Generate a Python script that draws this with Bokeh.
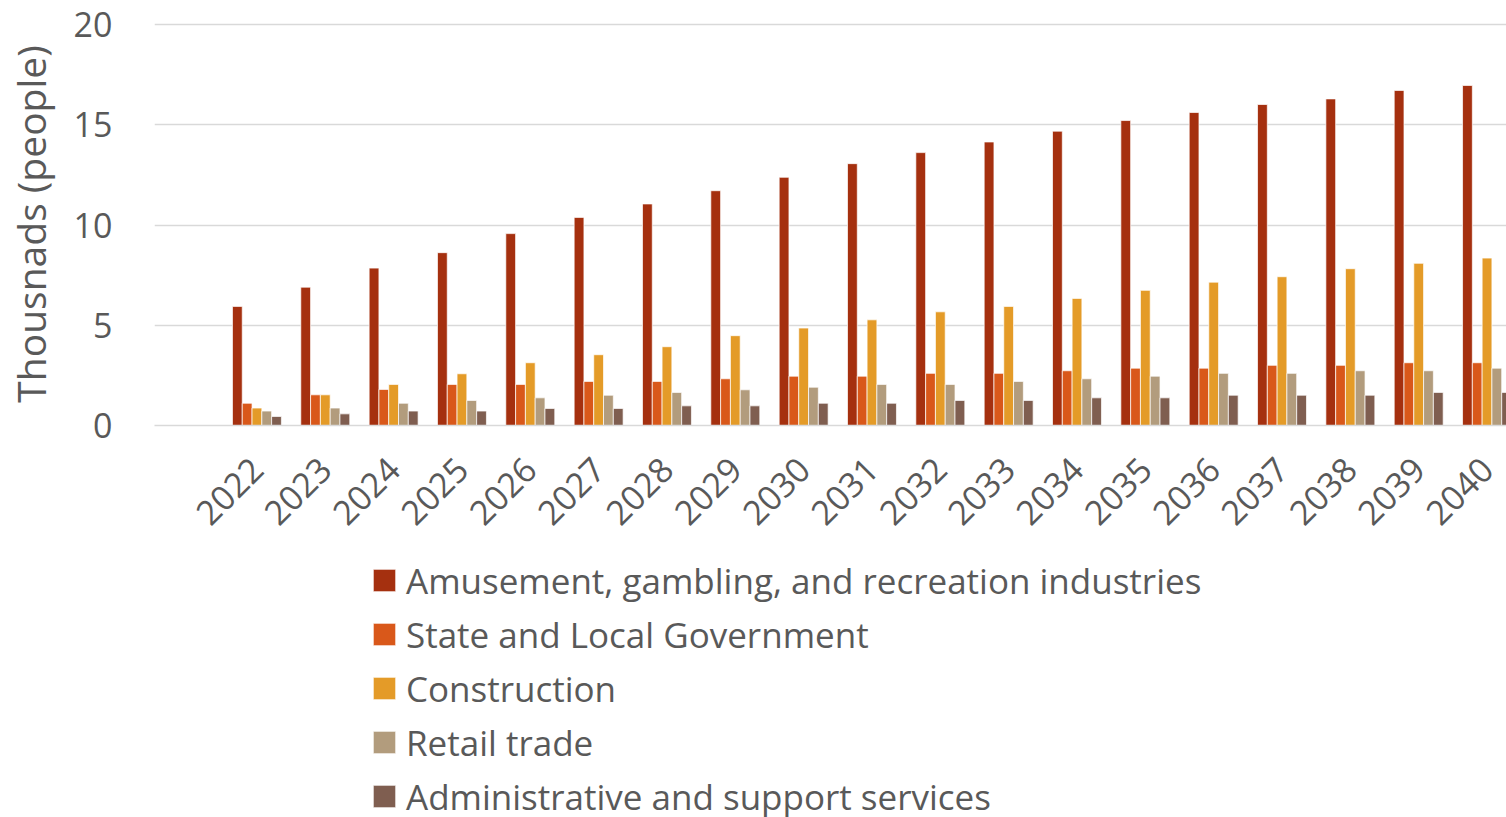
from bokeh.plotting import figure
from bokeh.models import (ColumnDataSource, Range1d, FixedTicker, Legend, LegendItem)
from bokeh.layouts import column
from bokeh.transform import dodge
from bokeh.embed import file_html
from bokeh.resources import INLINE
import math

years = [2022, 2023, 2024, 2025, 2026, 2027, 2028, 2029, 2030, 2031,
         2032, 2033, 2034, 2035, 2036, 2037, 2038, 2039, 2040]

amusement = [5.94, 6.90, 7.85, 8.62, 9.57, 10.38, 11.05, 11.71, 12.38, 13.06,
             13.61, 14.14, 14.68, 15.21, 15.61, 16.01, 16.29, 16.71, 16.96]
state_local = [1.11, 1.53, 1.80, 2.05, 2.05, 2.20, 2.20, 2.33, 2.46, 2.46,
               2.60, 2.60, 2.73, 2.86, 2.86, 3.00, 3.00, 3.13, 3.13]
construction = [0.87, 1.53, 2.05, 2.58, 3.13, 3.53, 3.93, 4.48, 4.86, 5.27,
                5.67, 5.94, 6.34, 6.74, 7.15, 7.42, 7.82, 8.09, 8.35]
retail = [0.72, 0.87, 1.11, 1.25, 1.38, 1.51, 1.65, 1.78, 1.91, 2.05,
          2.05, 2.20, 2.33, 2.46, 2.60, 2.60, 2.73, 2.73, 2.86]
admin = [0.45, 0.58, 0.72, 0.72, 0.85, 0.85, 0.98, 0.98, 1.11, 1.11,
         1.25, 1.25, 1.38, 1.38, 1.51, 1.51, 1.51, 1.65, 1.65]

series_names = ["Amusement, gambling, and recreation industries",
                "State and Local Government",
                "Construction",
                "Retail trade",
                "Administrative and support services"]
series_keys = ["amusement", "state_local", "construction", "retail", "admin"]
colors = ["#A5300F", "#D9581A", "#E49B28", "#B29C7D", "#7F5E50"]

y_ticks = [0, 5, 10, 15, 20]

source = ColumnDataSource(dict(year=years, amusement=amusement,
                               state_local=state_local,
                               construction=construction,
                               retail=retail, admin=admin))

FONT = "Open Sans"
TXT = "#595959"
FS = "34px"

p = figure(width=1506, height=557, output_backend="svg", toolbar_location=None,
           x_range=Range1d(2020.501, 2040.285), y_range=Range1d(0, 20.1),
           min_border_left=153, min_border_right=0, min_border_top=22,
           min_border_bottom=132)
p.outline_line_color = None
p.background_fill_color = "white"
p.border_fill_color = "white"

bar_w = 0.1433
renderers = []
for i, (key, col) in enumerate(zip(series_keys, colors)):
    r = p.vbar(x=dodge("year", (i - 2) * bar_w, range=p.x_range), top=key,
               width=bar_w, bottom=0, source=source, fill_color=col,
               line_color="white", line_width=1, line_alpha=0.7)
    renderers.append(r)

# grid
p.xgrid.grid_line_color = None
p.ygrid.grid_line_color = "#D9D9D9"
p.ygrid.grid_line_width = 1.5
p.yaxis.ticker = FixedTicker(ticks=y_ticks)
p.xaxis.ticker = FixedTicker(ticks=years)

# y axis
ya = p.yaxis[0]
ya.axis_line_color = None
ya.major_tick_line_color = None
ya.minor_tick_line_color = None
ya.major_label_standoff = 36
ya.major_label_text_font = FONT
ya.major_label_text_font_size = FS
ya.major_label_text_color = TXT
ya.axis_label = "Thousnads (people)"
ya.axis_label_text_font = FONT
ya.axis_label_text_font_size = "39px"
ya.axis_label_text_font_style = "normal"
ya.axis_label_text_color = TXT
ya.axis_label_standoff = 14

# x axis
xa = p.xaxis[0]
xa.axis_line_color = "#D9D9D9"
xa.axis_line_width = 1.5
xa.major_tick_line_color = None
xa.minor_tick_line_color = None
xa.major_label_orientation = math.pi / 4
xa.major_label_standoff = 32
xa.major_label_text_font = FONT
xa.major_label_text_font_size = FS
xa.major_label_text_color = TXT

# legend panel (separate figure below the chart); its proxy renderers use the
# same data but lie outside this figure's visible range
lg = figure(width=1506, height=260, output_backend="svg", toolbar_location=None,
            x_axis_location=None, y_axis_location=None,
            x_range=Range1d(0, 1), y_range=Range1d(0, 1),
            min_border=0, min_border_left=0, min_border_right=0,
            min_border_top=0, min_border_bottom=0)
lg.outline_line_color = None
lg.grid.grid_line_color = None
lg.border_fill_color = "white"
lg.background_fill_color = "white"

legend_renderers = []
for key, col in zip(series_keys, colors):
    legend_renderers.append(
        lg.vbar(x="year", top=key, width=0.5, source=source, fill_color=col,
                line_color="white", line_width=1, line_alpha=0.7))

legend = Legend(items=[LegendItem(label=n, renderers=[r])
                       for n, r in zip(series_names, legend_renderers)],
                location=(216, -3), orientation="vertical",
                glyph_width=28, glyph_height=28, label_standoff=8,
                label_text_font=FONT, label_text_font_size="35px",
                label_text_color=TXT, label_height=48, spacing=6,
                padding=0, margin=0, border_line_color=None,
                background_fill_alpha=0)
lg.add_layout(legend, "center")

layout = column(p, lg, spacing=0)
open("out.html", "w").write(file_html(layout, INLINE))
